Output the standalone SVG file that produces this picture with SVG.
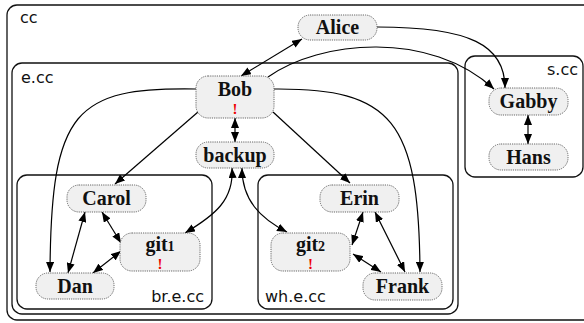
<svg xmlns="http://www.w3.org/2000/svg" width="584" height="323" viewBox="0 0 584 323">
<defs>
<marker id="ah" viewBox="0 0 10 8" refX="10" refY="4" markerWidth="10" markerHeight="8" markerUnits="userSpaceOnUse" orient="auto-start-reverse">
<path d="M0,0 L10,4 L0,8 z" fill="#000"/>
</marker>
<style>
.box{fill:none;stroke:#111;stroke-width:1.3}
.lbl{font-family:"DejaVu Sans",sans-serif;font-size:16px;fill:#111}
.node rect{fill:#f0f0f0;stroke:#666;stroke-width:1;stroke-dasharray:1.2,1}
.node text{font-family:"Liberation Serif",serif;font-weight:bold;font-size:20px;fill:#111;text-anchor:middle}
.node text.bang{fill:#e00;font-size:15px}
.e{fill:none;stroke:#000;stroke-width:1.2}
.b{marker-start:url(#ah);marker-end:url(#ah)}
.o{marker-end:url(#ah)}
</style>
</defs>
<g id="clusters">
<rect class="box" x="7" y="5" width="600" height="315" rx="10"/>
<text class="lbl" x="20" y="23">cc</text>
<rect class="box" x="12" y="63" width="446" height="251" rx="10"/>
<text class="lbl" x="21" y="83">e.cc</text>
<rect class="box" x="465" y="56" width="118" height="121" rx="10"/>
<text class="lbl" x="578" y="75" text-anchor="end">s.cc</text>
<rect class="box" x="17" y="175" width="195" height="134" rx="10"/>
<text class="lbl" x="204" y="302" text-anchor="end">br.e.cc</text>
<rect class="box" x="258" y="175" width="195" height="134" rx="10"/>
<text class="lbl" x="265" y="302">wh.e.cc</text>
</g>
<g id="edges">
<path class="e b" d="M241,76 L302,39"/>
<path class="e o" d="M268,77 C320,40 430,30 494,89"/>
<path class="e o" d="M377,27 C470,27 505,45 505,88"/>
<path class="e o" d="M198,112 L115,184"/>
<path class="e o" d="M196,89 C75,87 51,110 50,272"/>
<path class="e o" d="M273,112 L350,183"/>
<path class="e o" d="M274,89 C392,88 419,120 420,272"/>
<path class="e b" d="M235,118 L235,142"/>
<path class="e b" d="M232,168 C234,200 215,215 185,233"/>
<path class="e b" d="M242,168 C242,200 260,218 287,232"/>
<path class="e b" d="M85,212 L68,273"/>
<path class="e b" d="M102,212 L121,243"/>
<path class="e b" d="M93,273 L121,251"/>
<path class="e b" d="M363,212 L352,245"/>
<path class="e b" d="M375,212 L405,272"/>
<path class="e b" d="M353,254 L381,272"/>
<path class="e b" d="M528,115 L528,144"/>
</g>
<g id="Alice" class="node"><rect x="298" y="15" width="79" height="25" rx="12"/><text x="337.5" y="34">Alice</text></g>
<g id="Bob" class="node"><rect x="196" y="76" width="78" height="42" rx="12"/><text x="235" y="96">Bob</text><text class="bang" x="235" y="114">!</text></g>
<g id="backup" class="node"><rect x="196" y="142" width="78" height="26" rx="12"/><text x="235" y="162">backup</text></g>
<g id="Gabby" class="node"><rect x="489" y="88" width="79" height="27" rx="12"/><text x="528.5" y="108">Gabby</text></g>
<g id="Hans" class="node"><rect x="489" y="144" width="79" height="26" rx="12"/><text x="528.5" y="164">Hans</text></g>
<g id="Carol" class="node"><rect x="67" y="185" width="79" height="27" rx="12"/><text x="106.5" y="205">Carol</text></g>
<g id="git1" class="node"><rect x="120" y="233" width="80" height="38" rx="12"/><text x="160" y="251">git<tspan font-size="14">1</tspan></text><text class="bang" x="160" y="269">!</text></g>
<g id="Dan" class="node"><rect x="36" y="273" width="78" height="26" rx="12"/><text x="75" y="293">Dan</text></g>
<g id="Erin" class="node"><rect x="320" y="185" width="79" height="27" rx="12"/><text x="359.5" y="205">Erin</text></g>
<g id="git2" class="node"><rect x="271" y="233" width="79" height="38" rx="12"/><text x="310.5" y="251">git<tspan font-size="14">2</tspan></text><text class="bang" x="310.5" y="269">!</text></g>
<g id="Frank" class="node"><rect x="363" y="273" width="79" height="27" rx="12"/><text x="402.5" y="293">Frank</text></g>
</svg>
